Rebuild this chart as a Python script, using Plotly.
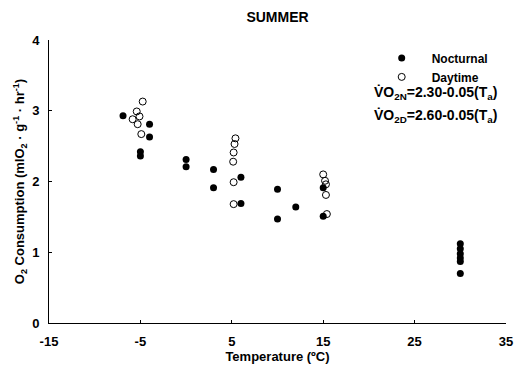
import plotly.graph_objects as go

# Nocturnal (filled) points
noct_temp = [-6.9, -4.0, -4.0, -5.0, -5.0, 0, 0, 3, 3, 6, 6, 10, 10, 12, 15, 15,
             30, 30, 30, 30, 30, 30]
noct_vo2 = [2.93, 2.81, 2.63, 2.42, 2.36, 2.31, 2.21, 2.17, 1.91, 2.06, 1.69, 1.89, 1.47, 1.64, 1.91, 1.51,
            1.12, 1.05, 0.98, 0.92, 0.87, 0.70]

# Daytime (open) points
day_temp = [-4.75, -5.4, -5.1, -5.85, -5.3, -4.9,
            5.4, 5.3, 5.2, 5.15, 5.2, 5.2,
            15.0, 15.2, 15.3, 15.3, 15.4]
day_vo2 = [3.13, 2.99, 2.92, 2.88, 2.81, 2.67,
           2.61, 2.53, 2.41, 2.28, 1.99, 1.68,
           2.10, 2.01, 1.96, 1.81, 1.54]

x_ticks = [-15, -5, 5, 15, 25, 35]
y_ticks = [0, 1, 2, 3, 4]

FONT = "Liberation Sans, Arial, sans-serif"
NB = "\u00a0" * 3

fig = go.Figure()
fig.add_trace(go.Scatter(
    x=noct_temp, y=noct_vo2, mode="markers", name=NB + "Nocturnal",
    marker=dict(symbol="circle", size=7, color="black", line=dict(width=0)),
))
fig.add_trace(go.Scatter(
    x=day_temp, y=day_vo2, mode="markers", name=NB + "Daytime",
    marker=dict(symbol="circle-open", size=7, color="black", line=dict(width=1)),
))

fig.update_layout(
    width=514, height=366,
    margin=dict(l=49, r=8, t=40, b=43),
    paper_bgcolor="white", plot_bgcolor="white",
    font=dict(family=FONT, color="black", size=13),
    title=dict(text="SUMMER", x=0.5, xref="paper", y=1 - 17 / 366, yref="container",
               xanchor="center", yanchor="middle", automargin=False,
               font=dict(family=FONT, size=14, weight="bold", color="black")),
    showlegend=True,
    legend=dict(x=0.728, y=0.988, xanchor="left", yanchor="top",
                bgcolor="rgba(0,0,0,0)", borderwidth=0,
                font=dict(family=FONT, size=12, weight="bold", color="black"),
                itemsizing="trace", tracegroupgap=0),
    xaxis=dict(range=[-15, 35], tickvals=x_ticks, ticktext=[str(v) for v in x_ticks],
               showgrid=False, zeroline=False, showline=True, linecolor="black", linewidth=1,
               ticks="inside", ticklen=3, tickcolor="black", automargin=False,
               ticklabelstandoff=6,
               tickfont=dict(family=FONT, size=13, weight="bold"),
               title=dict(text="Temperature (ºC)", standoff=2,
                          font=dict(family=FONT, size=13, weight="bold"))),
    yaxis=dict(range=[0, 4], tickvals=y_ticks, ticktext=[str(v) for v in y_ticks],
               showgrid=False, zeroline=False, showline=True, linecolor="black", linewidth=1,
               ticks="inside", ticklen=3, tickcolor="black", automargin=False,
               ticklabelstandoff=6,
               tickfont=dict(family=FONT, size=13, weight="bold"),
               title=dict(text="O<sub>2</sub> Consumption (mlO<sub>2</sub> · g<sup>-1</sup> · hr<sup>-1</sup>)",
                          standoff=4,
                          font=dict(family=FONT, size=13, weight="bold"))),
)

fig.add_annotation(x=0.707, y=0.811, xref="paper", yref="paper", showarrow=False,
                   xanchor="left", yanchor="middle",
                   text="V\u0307O<sub>2N</sub>=2.30-0.05(T<sub>a</sub>)",
                   font=dict(family=FONT, size=14, weight="bold", color="black"))
fig.add_annotation(x=0.707, y=0.730, xref="paper", yref="paper", showarrow=False,
                   xanchor="left", yanchor="middle",
                   text="V\u0307O<sub>2D</sub>=2.60-0.05(T<sub>a</sub>)",
                   font=dict(family=FONT, size=14, weight="bold", color="black"))

fig.write_html("out.html", config={"displayModeBar": False},
               post_script="document.body.style.margin='0';document.body.style.padding='0';")
